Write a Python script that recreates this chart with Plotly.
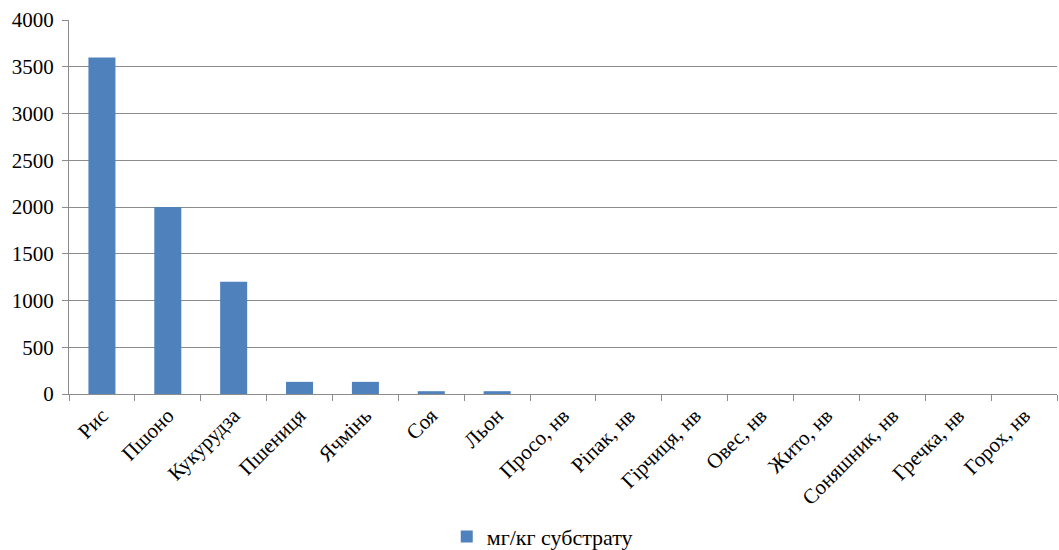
import plotly.graph_objects as go

# Вміст у зерні культур, мг/кг субстрату ("нв" — не виявлено)
crops = ["Рис", "Пшоно", "Кукурудза", "Пшениця", "Ячмінь", "Соя", "Льон",
         "Просо, нв", "Ріпак, нв", "Гірчиця, нв", "Овес, нв", "Жито, нв",
         "Соняшник, нв", "Гречка, нв", "Горох, нв"]
values = [3600, 2000, 1200, 130, 130, 30, 30, 0, 0, 0, 0, 0, 0, 0, 0]
y_ticks = [0, 500, 1000, 1500, 2000, 2500, 3000, 3500, 4000]

font_family = "Liberation Serif"
grid_color = "#8c8c8c"

fig = go.Figure()
fig.add_trace(go.Bar(
    x=crops,
    y=values,
    name="мг/кг субстрату",
    marker=dict(color="#4f81bd", line=dict(width=0)),
))

fig.update_layout(
    width=1059,
    height=550,
    margin=dict(l=69, r=2, t=20, b=156),
    paper_bgcolor="white",
    plot_bgcolor="white",
    font=dict(family=font_family, size=21, color="black"),
    bargap=0.59,
    showlegend=True,
    legend=dict(
        orientation="h",
        x=0.479, xanchor="center",
        yref="container", y=0.024, yanchor="middle",
        font=dict(family=font_family, size=22),
        itemwidth=30,
    ),
)

fig.update_xaxes(
    type="category",
    tickangle=-45,
    showline=True,
    linecolor=grid_color,
    linewidth=1,
    ticks="outside",
    tickson="boundaries",
    ticklen=6,
    tickcolor=grid_color,
    showgrid=False,
    automargin=False,
    tickfont=dict(family=font_family, size=21),
)

fig.update_yaxes(
    range=[0, 4000],
    tickvals=y_ticks,
    showline=True,
    linecolor=grid_color,
    linewidth=1,
    showgrid=True,
    gridcolor=grid_color,
    gridwidth=1,
    ticks="outside",
    ticklen=6,
    tickcolor=grid_color,
    ticklabelstandoff=4,
    zeroline=False,
    automargin=False,
    tickfont=dict(family=font_family, size=21),
)

fig.write_html("out.html")
